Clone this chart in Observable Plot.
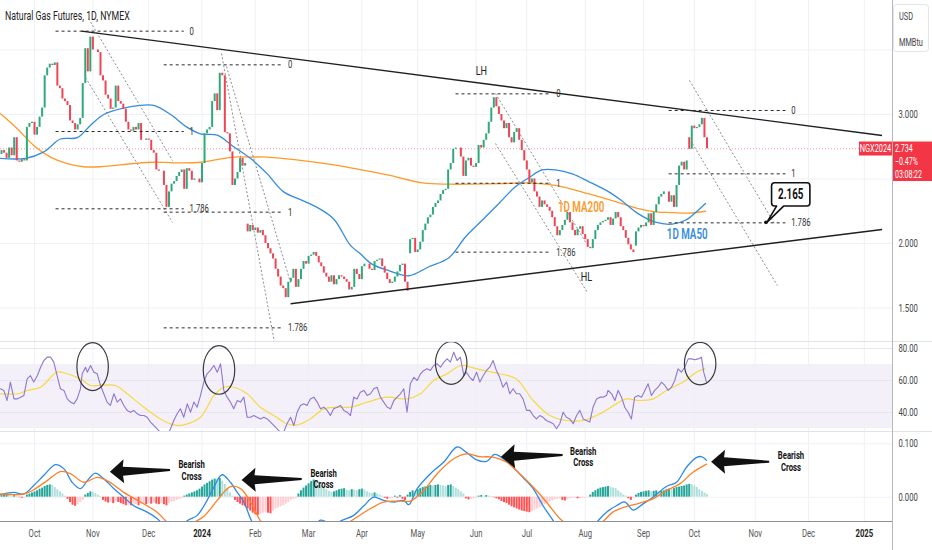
<!DOCTYPE html>
<html><head><meta charset="utf-8">
<script src="https://cdn.jsdelivr.net/npm/d3@7"></script>
<script src="https://cdn.jsdelivr.net/npm/@observablehq/plot@0.6"></script>
<style>
body{margin:0;background:#fff;font-family:Roboto,"Liberation Sans",sans-serif;}
#wrap{position:relative;width:932px;height:550px;overflow:hidden;background:#fff;}
#wrap svg{position:absolute;left:0;}
.sep{position:absolute;left:0;width:932px;height:1px;background:#e0e3eb;}
</style></head><body><div id="wrap"></div>
<script>
// ---------------- DATA ----------------
const firstIdx = -13;          // bar index of first daily candle (0 = 2 Oct 2023)
const firstOpen = 2.69;
const closes = [
2.72,2.70,2.66,2.74,2.68,2.82,2.64,2.63,2.65,2.64,
2.90,2.93,2.94,2.84,2.90,2.98,3.05,3.30,3.36,3.39,
3.38,3.40,3.22,3.20,3.12,3.10,3.07,2.95,2.93,2.88,
2.92,2.97,3.24,3.51,3.33,3.60,3.50,3.50,3.48,3.30,
3.26,3.15,3.12,3.04,3.05,3.22,3.10,3.08,3.04,2.94,
2.88,2.87,2.90,2.88,2.93,2.80,2.80,2.81,2.80,2.72,
2.70,2.57,2.56,2.56,2.45,2.28,2.40,2.46,2.48,2.52,
2.55,2.57,2.42,2.58,2.56,2.49,2.50,2.50,2.47,2.62,
2.85,2.88,2.90,3.10,3.16,3.03,3.32,3.30,2.86,2.85,
2.71,2.45,2.50,2.55,2.66,2.60,2.62,2.09,2.14,2.10,
2.12,2.08,2.10,2.06,2.00,1.96,1.92,1.88,1.80,1.74,
1.67,1.65,1.58,1.70,1.73,1.80,1.66,1.72,1.80,1.86,
1.84,1.90,1.91,1.93,1.90,1.85,1.82,1.77,1.74,1.70,
1.75,1.68,1.72,1.75,1.74,1.72,1.70,1.64,1.66,1.80,
1.76,1.72,1.82,1.84,1.84,1.80,1.79,1.86,1.87,1.88,
1.82,1.77,1.72,1.69,1.70,1.74,1.78,1.83,1.84,1.70,
1.63,2.03,2.04,1.93,1.95,2.01,2.10,2.15,2.20,2.22,
2.28,2.31,2.33,2.38,2.41,2.42,2.57,2.62,2.73,2.74,
2.74,2.67,2.52,2.64,2.66,2.60,2.59,2.62,2.76,2.74,
2.80,2.85,2.94,3.05,3.13,3.06,3.00,2.95,2.89,2.93,
2.82,2.78,2.86,2.89,2.80,2.72,2.64,2.57,2.47,2.50,
2.40,2.36,2.28,2.33,2.30,2.28,2.25,2.20,2.13,2.06,
2.10,2.14,2.18,2.24,2.16,2.10,2.06,2.11,2.13,2.07,
2.03,1.97,1.96,2.03,2.10,2.14,2.16,2.17,2.18,2.20,
2.14,2.19,2.24,2.20,2.13,2.10,2.04,1.99,1.95,1.93,
2.09,2.12,2.14,2.13,2.16,2.23,2.14,2.24,2.30,2.36,
2.38,2.40,2.40,2.32,2.37,2.28,2.45,2.60,2.63,2.57,
2.64,2.73,2.91,2.89,2.90,2.92,2.97,2.82,2.734];
const gapOpens = [[84,2.15],[148,1.92],[237,1.98],[258,2.82]];

const ma50 = [[-13.4,2.66],[-3.5,2.66],[3.7,2.71],[10.2,2.81],[16.8,2.82],[22,2.915],[27.3,3.0],[35.2,3.05],[41.8,3.07],[47,3.07],[53.6,3.0],[60.2,2.9],[65.4,2.85],[72,2.84],[78.5,2.75],[85.1,2.66],[91.7,2.54],[98.2,2.40],[104.8,2.34],[111.4,2.28],[117.9,2.19],[124.5,1.985],[128.4,1.92],[133,1.84],[139.6,1.79],[147.5,1.75],[155.4,1.82],[163.3,1.89],[169.8,2.05],[176.4,2.18],[183,2.31],[189.5,2.44],[194.8,2.51],[200,2.57],[205.3,2.57],[211.9,2.54],[218.4,2.48],[226.3,2.40],[231.5,2.33],[238,2.23],[244.7,2.165],[251.3,2.15],[256.5,2.18],[260.5,2.24],[264.4,2.31]];
const ma200 = [[-13.4,3.005],[-6.8,2.89],[-0.3,2.76],[6.3,2.67],[12.9,2.62],[19.4,2.595],[26,2.595],[39.1,2.62],[47,2.63],[58.8,2.625],[65.4,2.63],[72,2.65],[78.5,2.67],[85.1,2.67],[91.7,2.67],[104.8,2.645],[118,2.61],[126.5,2.58],[139.6,2.53],[152.8,2.47],[163.3,2.46],[172.4,2.46],[185.6,2.465],[194.8,2.47],[205.3,2.45],[218.4,2.385],[231.5,2.31],[238,2.27],[244.7,2.245],[251.3,2.24],[257.8,2.235],[264.4,2.25]];

const trendLines = [[18.5,3.646,334,2.837],[100.9,1.533,334,2.109]];
const channelLines = [
 [21.28,3.744,54.37,2.643],[20.09,3.287,54.37,2.163],
 [73.68,3.473,94.56,1.233],[75.65,3.372,100.87,1.698],
 [181.64,3.163,217.49,2.0],[181.64,2.775,217.89,1.62],
 [258.08,3.264,291.57,2.155],[259.26,2.775,292.75,1.674]];
const fibNames = ["0","1","1.786"];
const fibSets = [
 {from:8.3, to:58.8, levels:[3.646,2.868,2.269]},
 {from:50.9, to:97.6, levels:[3.385,2.243,1.346]},
 {from:165.9, to:203.3, levels:[3.16,2.467,1.933]},
 {from:249.9, to:295.9, levels:[3.031,2.54,2.16]}];
const swingLabels = [[176.1,3.341,"LH"],[217.5,1.739,"HL"]];
const maLabels = [[215.4,2.277,"1D MA200","#ff9a2a"],[257.2,2.067,"1D MA50","#368cdc"]];
const callout = {i:288.4, p:2.16, text:"2.165"};
const priceGrid = [1.5,2.0,2.5,3.0,3.5];
const priceTicks = [1.5,2.0,3.0];
const lastPrice = 2.734, lastChange = "\u22120.47%", countdown = "03:08:22", symbol = "NGX2024";

const monthIdx = [0,23,45,66,87,108,129,151,174,194,217,240,260,284,305,327];
const monthLabels = ["Oct","Nov","Dec","2024","Feb","Mar","Apr","May","Jun","Jul","Aug","Sep","Oct","Nov","Dec","2025"];

const rsiI = [-13.4,-12.1,-10.8,-9.5,-8.1,-6.8,-5.5,-4.2,-2.9,-1.6,-0.3,1.1,2.4,3.7,5.0,6.3,7.6,8.9,10.2,11.6,12.9,14.2,15.5,16.8,18.1,18.8,20.1,20.8,22.1,23.4,24.7,26.0,27.3,28.6,29.9,31.3,32.6,33.9,35.2,36.5,37.8,39.1,40.5,41.8,43.1,44.4,45.7,47.0,48.3,49.6,51.0,52.3,53.6,54.9,56.2,57.5,58.8,60.2,61.5,62.8,64.1,65.4,66.7,68.0,69.3,70.7,72.0,73.3,73.9,74.6,75.9,77.2,78.5,79.9,81.2,82.5,83.8,85.1,86.4,87.7,89.0,90.4,91.7,93.0,94.3,95.6,96.9,98.2,99.5,100.9,102.2,103.5,104.8,106.1,107.4,108.7,110.1,111.4,112.7,114.0,115.3,116.6,117.9,119.3,120.6,121.9,123.2,124.5,125.8,127.1,128.4,129.8,131.1,132.4,133.7,135.0,136.3,137.6,139.0,140.3,141.6,142.9,144.2,145.5,146.8,148.1,149.5,150.8,152.1,153.4,154.7,156.0,157.3,158.7,160.0,161.3,162.6,163.9,165.2,166.5,167.8,169.2,170.2,171.5,172.8,174.2,175.5,176.8,178.1,179.4,180.7,182.0,183.3,184.6,186.0,187.3,188.6,189.9,191.2,192.5,193.9,195.2,196.5,197.8,199.1,200.4,201.7,203.1,204.4,205.7,207.0,208.3,209.6,210.9,212.3,213.6,214.9,216.2,217.5,218.8,220.1,221.5,222.8,224.1,225.4,226.0,227.4,228.7,230.0,231.3,232.6,233.9,235.2,236.5,237.9,239.2,240.5,241.8,243.1,244.4,245.7,247.1,248.4,249.7,251.0,252.3,253.6,254.9,256.2,257.6,258.9,260.2,261.5,262.8,263.7,264.8];
const rsiV = [54.8,53.8,47.5,59,48.5,48.5,49.6,50.6,61,63,59,63,68.3,72.5,74.6,74.6,71.5,63,54.8,53.8,48.5,46.5,45.4,48.5,54.8,64.2,68.3,65.2,69.4,65.2,64.2,56.9,51.7,46.5,44.4,51.7,46.5,48.5,44.4,41.3,40.2,41.3,39.2,38.1,38.1,37,34,31.9,29.8,27.7,25.6,25.6,29.8,35,39.2,42.3,37,45.4,40.2,46.5,43.3,50.6,59,64.2,66.3,69.4,65.2,70.4,63,53.8,49.6,46.5,42.3,47.5,46.5,49.6,37,37,38.1,37,36,37,36,34,31.9,29.8,27.7,27.7,33,37,31.9,40.2,44.4,45.4,44.4,48.5,49.6,46.5,42.3,43.3,41.3,38.1,42.3,43.3,44.4,41.3,40.2,38.1,49.6,48.5,52.7,53.8,50.6,51.7,54.8,55.8,49.6,46.5,43.3,42.3,47.5,49.6,51.7,54.8,40.2,57.9,62,60,64.2,66.3,67.3,66.3,69.4,70.4,68.3,71.5,73.5,71.5,77.7,72.5,74.6,63,65.2,62,60,65.2,59,63,66.3,68.3,72.5,66.3,62,55.8,59,51.7,54.8,51.7,51.7,48.5,41.3,41.3,38.1,36,38.1,37,35,34,33,29.8,33,40.2,37,36,33,38.1,41.3,36,35,34,43.3,48.5,49.6,49.6,50.6,53.8,51.7,47.5,53.8,49.6,43.3,40.2,36,49.6,50.6,49.6,53.8,57.9,50.6,53.8,55.8,59,56.9,53.8,55.8,60,67.3,65.2,68.3,73.5,73.5,73,73.5,74.6,65.2,59];
const rsiMa = [[-13.4,51.7],[-6.8,51.7],[-2.9,53.75],[2.4,55.8],[8.9,65.2],[12.9,64.2],[18.1,61],[22.1,56.9],[26,56.9],[31.9,56.9],[36.5,51.7],[43.1,43.3],[49.6,36],[54.9,32.3],[58.8,32.3],[65.4,37],[70.7,50.6],[74.6,55.8],[78.5,55.8],[83.8,51.7],[89,43.3],[94.3,38.1],[99.5,33],[103.5,32.3],[108.7,36],[114,42.3],[119.3,43.3],[124.5,43.3],[131.1,46.5],[139,49.6],[146.8,48.5],[152.1,51.7],[157.3,60],[162.6,64.2],[167.8,69.4],[170.2,69],[176.8,66.3],[183.3,64.2],[189.9,61],[196.5,47.5],[203.1,38.1],[209.6,35],[216.2,35],[222.8,39.2],[229.3,45.4],[233.2,48.5],[238.5,47.5],[243.7,48.5],[249,53.75],[255.6,59],[260.8,65.2],[264.1,67.3]];
const rsiBand = [30,70];
const rsiGrid = [40,60,80];
const rsiCircles = [[23.1,68.3,6.2,15],[72.9,66.3,6.2,15.2],[164.4,70.6,6.2,13.3],[262.5,70.2,6.2,13.3]];

const histogram = [
0.003,0.004,0.004,0.003,0.002, 0.003,0.002,-0.001,-0.002,-0.002,
0.004,0.006,0.008,0.010,0.012, 0.015,0.017,0.020,0.022,0.023,
0.022,0.018,0.014,0.010,0.006, 0.002,-0.004,-0.010,-0.015,-0.017,
-0.014,-0.010,-0.006,0.004,0.007, 0.010,0.009,0.007,0.004,0.001,
-0.006,-0.009,-0.011,-0.010,-0.012, -0.008,-0.010,-0.012,-0.014,-0.016,
-0.015,-0.016,-0.015,-0.014,-0.016, -0.013,-0.012,-0.014,-0.012,-0.013,
-0.011,-0.013,-0.014,-0.012,-0.014, -0.016,-0.012,-0.010,-0.008,-0.006,
-0.004,-0.003,0.002,0.004,0.006, 0.008,0.010,0.012,0.015,0.019,
0.023,0.026,0.029,0.032,0.034, 0.033,0.035,0.030,0.024,0.016,
0.008,0.002,-0.006,-0.010,-0.013, -0.016,-0.018,-0.022,-0.026,-0.030,
-0.033,-0.034,-0.032,-0.030,-0.028, -0.030,-0.031,-0.026,-0.022,-0.020,
-0.018,-0.016,-0.013,-0.010,-0.006, -0.004,-0.003,0.006,0.012,0.017,
0.021,0.025,0.029,0.032,0.031, 0.027,0.022,0.018,0.014,0.011,
0.009,0.010,0.012,0.014,0.015, 0.016,0.013,0.012,0.014,0.013,
0.012,0.014,0.015,0.013,0.010, 0.008,0.007,0.008,0.006,0.004,
0.002,-0.002,-0.004,-0.003,-0.002, 0.002,-0.002,0.003,-0.004,-0.006,
0.004,0.009,0.012,0.011,0.014, 0.016,0.018,0.019,0.020,0.022,
0.021,0.022,0.023,0.022,0.021, 0.020,0.022,0.023,0.020,0.017,
0.014,0.010,0.006,-0.003,-0.005, -0.004,-0.003,-0.002,0.002,0.003,
0.002,0.003,0.002,0.001,-0.001, -0.003,-0.005,-0.008,-0.010,-0.012,
-0.015,-0.018,-0.020,-0.022,-0.024, -0.026,-0.027,-0.028,-0.029,-0.027,
-0.025,-0.022,-0.020,-0.017,-0.014, -0.011,-0.009,-0.007,-0.005,-0.004,
-0.003,-0.006,-0.007,-0.005,-0.003, -0.002,-0.002,-0.003,-0.003,-0.002,
-0.002,-0.001,0.004,0.009,0.012, 0.015,0.017,0.018,0.019,0.020,
0.019,0.017,0.016,0.012,0.008, 0.004,0.002,-0.003,-0.006,-0.002,
0.004,0.007,0.009,0.010,0.011, 0.012,0.010,0.011,0.012,0.010,
0.011,0.012,0.014,0.015,0.014, 0.016,0.018,0.019,0.020,0.021,
0.023,0.024,0.023,0.021,0.018, 0.014,0.011,0.008,0.005];
const macdLine = [[-13.4,0.005],[-8.1,0.009],[-4.2,0.006],[-0.3,0.022],[3.7,0.041],[8.3,0.061],[11.6,0.053],[14.8,0.028],[18.1,0.016],[20.8,0.031],[24.0,0.045],[26.7,0.037],[31.3,0.016],[35.2,0.0],[39.1,-0.016],[44.4,-0.028],[48.3,-0.040],[51.0,-0.053],[54,-0.066],[57,-0.060],[60.2,-0.044],[64.1,-0.034],[68.0,-0.006],[70.7,0.019],[73.9,0.042],[77.2,0.028],[79.9,0.009],[82.5,-0.009],[85.1,-0.040],[86.4,-0.053],[92,-0.10],[100,-0.12],[107,-0.08],[112.7,-0.043],[117,-0.05],[121.9,-0.042],[125.8,-0.034],[129.8,-0.016],[133.7,0.0],[137.6,-0.006],[141.6,-0.009],[145.5,-0.006],[147.5,-0.014],[150.8,0.016],[156.0,0.044],[161.3,0.066],[166.5,0.094],[170.2,0.084],[174.2,0.070],[178.1,0.067],[181.4,0.080],[184.7,0.072],[188.6,0.056],[192.5,0.037],[196.5,0.016],[200.4,-0.016],[204.4,-0.044],[205.7,-0.053],[212,-0.08],[218,-0.065],[222.1,-0.044],[225.4,-0.028],[229.3,-0.016],[232.6,-0.009],[235.9,-0.024],[239.8,-0.0125],[243.7,0.0],[249.0,0.020],[253.0,0.028],[256.9,0.056],[260.8,0.074],[262.8,0.076],[264.8,0.069]];
const signalLine = [[-13.4,0.006],[-4.2,0.006],[-0.3,0.014],[5.0,0.031],[10.2,0.048],[14.2,0.044],[19.4,0.028],[24.7,0.037],[28.6,0.031],[35.2,0.009],[41.8,-0.009],[48.3,-0.028],[52.3,-0.047],[56,-0.058],[59,-0.056],[62.8,-0.047],[66.7,-0.036],[72.0,-0.006],[77.2,0.020],[81.2,0.016],[85.1,-0.009],[89.0,-0.044],[90.4,-0.050],[98,-0.09],[106,-0.10],[115,-0.07],[124.5,-0.045],[131.1,-0.025],[137.6,-0.009],[144.2,-0.0075],[148.1,-0.0075],[153.4,0.0125],[158.7,0.044],[165.2,0.072],[170.2,0.081],[175.5,0.076],[180.7,0.075],[185.9,0.066],[191.2,0.044],[196.5,0.019],[201.7,-0.009],[206.8,-0.039],[209.6,-0.050],[215,-0.066],[220,-0.058],[224.1,-0.045],[227.9,-0.028],[233.2,-0.0175],[238.5,-0.011],[243.7,-0.003],[249.0,0.0125],[254.3,0.025],[259.6,0.047],[264.8,0.062]];
const macdGrid = [0, 0.1];
// arrows: tip idx, tip value, tail idx, tail value ; text centre idx, value line1, value line2
const arrows = [[29.9,0.0468,53.6,0.050],[81.8,0.0313,105.5,0.0331],[184,0.0749,208.3,0.078],[266.8,0.0655,289.7,0.0655]];
const arrowTexts = [[62.1,0.0612,0.0388],[114.1,0.045,0.0238],[216.4,0.0861,0.065],[298.3,0.078,0.0556]];

// ---------------- LAYOUT ----------------
const W = 932, MR = 40;
const xDomain = [-13.4, 338.1];
const mainDomain = [1.2403, 3.8837];
const rsiDomain = [28.125, 84.375];
const macdDomain = [-0.0455, 0.1230];
const GRID = "#eef1f5", UP = "#2fa97a", DN = "#ef4453", FONT = "Roboto, 'Liberation Sans', sans-serif";
const AX = "#b4b7bf";

function mk(o){
  return Plot.plot(Object.assign({width:W, marginLeft:0, marginRight:MR, marginTop:0, marginBottom:0,
    color:{type:"identity"}, x:{domain:xDomain, axis:null},
    style:{background:"transparent", fontFamily:FONT, fontSize:"11px", overflow:"visible"}}, o));
}
const wrap = document.getElementById("wrap");

// ---- main pane ----
const candles = closes.map((c,k)=>({i:firstIdx+k, o: k===0 ? firstOpen : closes[k-1], c}));
gapOpens.forEach(([i,o])=>{ candles[i-firstIdx].o = o; });
const fibSegs = [], fibLbls = [];
fibSets.forEach(s=>s.levels.forEach((p,j)=>{ fibSegs.push({x1:s.from,x2:s.to,p}); fibLbls.push({x:s.to+2.3,p,t:fibNames[j]}); }));

const main = mk({height:341, y:{domain:mainDomain, axis:null}, marks:[
  Plot.ruleX(monthIdx, {stroke:GRID}),
  Plot.ruleY(priceGrid, {stroke:GRID}),
  Plot.ruleY([lastPrice], {stroke:"#f29aa2", strokeDasharray:"1,2"}),
  Plot.line(ma200, {x:d=>d[0], y:d=>d[1], stroke:"#ff9a2a", strokeWidth:1.3, curve:"catmull-rom"}),
  Plot.line(ma50, {x:d=>d[0], y:d=>d[1], stroke:"#368cdc", strokeWidth:1.3, curve:"catmull-rom"}),
  Plot.ruleX(candles, {x:"i", y1:"o", y2:"c", stroke:d=>d.c>=d.o?UP:DN, strokeWidth:2}),
  Plot.link(channelLines, {x1:d=>d[0], y1:d=>d[1], x2:d=>d[2], y2:d=>d[3], stroke:"#8d8d8d", strokeWidth:1, strokeDasharray:"2,2", clip:true}),
  Plot.link(trendLines, {x1:d=>d[0], y1:d=>d[1], x2:d=>d[2], y2:d=>d[3], stroke:"#1f1f1f", strokeWidth:1.4}),
  Plot.link(fibSegs, {x1:"x1", x2:"x2", y1:"p", y2:"p", stroke:"#2a2a2a", strokeWidth:1, strokeDasharray:"3,3"}),
  Plot.text(fibLbls, {x:"x", y:"p", text:"t", textAnchor:"start", fontSize:11, fill:"#333"}),
  Plot.text(swingLabels, {x:d=>d[0], y:d=>d[1], text:d=>d[2], fontSize:13, fill:"#222"}),
  Plot.text(maLabels, {x:d=>d[0], y:d=>d[1], text:d=>d[2], fill:d=>d[3], fontSize:14, fontWeight:600}),
  Plot.ruleX([xDomain[1]], {stroke:AX}),
  Plot.text(priceTicks, {y:d=>d, text:d=>d.toFixed(3), frameAnchor:"right", dx:6, textAnchor:"start", fill:"#444", fontSize:11})
]});
main.style.top = "0px"; wrap.appendChild(main);

// ---- RSI pane ----
const rsiPts = rsiI.map((x,k)=>[x, rsiV[k]]);
const rsi = mk({height:90, y:{domain:rsiDomain, axis:null}, marks:[
  Plot.rect([rsiBand], {x1:()=>xDomain[0], x2:()=>xDomain[1], y1:d=>d[0], y2:d=>d[1], fill:"#7e57c2", fillOpacity:0.09}),
  Plot.ruleX(monthIdx, {stroke:GRID}),
  Plot.ruleY(rsiGrid, {stroke:"#e6e8ee"}),
  Plot.line(rsiMa, {x:d=>d[0], y:d=>d[1], stroke:"#f9d845", strokeWidth:1.2, curve:"catmull-rom", clip:true}),
  Plot.line(rsiPts, {x:d=>d[0], y:d=>d[1], stroke:"#8f77d0", strokeWidth:1.1, clip:true}),
  Plot.ruleX([xDomain[1]], {stroke:AX}),
  Plot.text(rsiGrid, {y:d=>d, text:d=>d.toFixed(2), frameAnchor:"right", dx:6, textAnchor:"start", fill:"#444", fontSize:11})
]});
rsi.style.top = "341px"; wrap.appendChild(rsi);

// ---- MACD pane ----
const hist = histogram.map((h,k)=>{
  const prev = k ? histogram[k-1] : h;
  const col = h>=0 ? (h>=prev ? "#26a69a" : "#b2dfdb") : (h<prev ? "#ff5252" : "#ffcdd2");
  return {i:firstIdx+k, h, col};
});
const months = monthIdx.map((x,k)=>({x, t:monthLabels[k], year:/^\d{4}$/.test(monthLabels[k])}));
const macd = mk({height:119, marginBottom:29, y:{domain:macdDomain, axis:null}, marks:[
  Plot.ruleX(monthIdx, {stroke:GRID}),
  Plot.ruleY(macdGrid, {stroke:GRID}),
  Plot.ruleX(hist, {x:"i", y1:()=>0, y2:"h", stroke:"col", strokeWidth:2, clip:true}),
  Plot.line(macdLine, {x:d=>d[0], y:d=>d[1], stroke:"#2e8ae6", strokeWidth:1.3, curve:"catmull-rom", clip:true}),
  Plot.line(signalLine, {x:d=>d[0], y:d=>d[1], stroke:"#ff7f27", strokeWidth:1.3, curve:"catmull-rom", clip:true}),
  Plot.ruleY([macdDomain[0]], {stroke:"#8c8f96"}),
  Plot.ruleX([xDomain[1]], {stroke:AX, y1:()=>macdDomain[0], y2:()=>macdDomain[1]}),
  Plot.text(macdGrid, {y:d=>d, text:d=>d.toFixed(3), frameAnchor:"right", dx:6, textAnchor:"start", fill:"#444", fontSize:11}),
  Plot.text(months.filter(d=>!d.year), {x:"x", text:"t", frameAnchor:"bottom", dy:15, fill:"#555", fontSize:11}),
  Plot.text(months.filter(d=>d.year), {x:"x", text:"t", frameAnchor:"bottom", dy:15, fill:"#222", fontSize:11, fontWeight:700})
]});
macd.style.top = "431px"; wrap.appendChild(macd);

// separators & axis border
[341,431].forEach(t=>{ const d=document.createElement("div"); d.className="sep"; d.style.top=t+"px"; wrap.appendChild(d); });
const vb = document.createElement("div"); vb.style.cssText="position:absolute;left:892px;top:0;width:1px;height:550px;background:"+AX; wrap.appendChild(vb);

// ---- annotations drawn through the plots' scales ----
{
  const sx = main.scale("x"), sy = main.scale("y");
  const g = d3.select(main).append("g").attr("font-family", FONT).attr("text-anchor","start");
  // callout
  const ax = sx.apply(callout.i), ay = sy.apply(callout.p);
  const bx0 = ax+5.7, bx1 = ax+44, by0 = ay-39.6, by1 = ay-16.3, r=3;
  g.append("path").attr("d",
    `M${bx0+r},${by0}H${bx1-r}Q${bx1},${by0} ${bx1},${by0+r}V${by1-r}Q${bx1},${by1} ${bx1-r},${by1}H${bx0+12}L${ax+1},${ay}L${bx0+5},${by1}H${bx0+r}Q${bx0},${by1} ${bx0},${by1-r}V${by0+r}Q${bx0},${by0} ${bx0+r},${by0}Z`)
    .attr("fill","#fff").attr("stroke","#111").attr("stroke-width",1.6).attr("stroke-linejoin","round");
  g.append("circle").attr("cx",ax).attr("cy",ay).attr("r",1.8).attr("fill","#111");
  g.append("text").attr("x",(bx0+bx1)/2).attr("y",(by0+by1)/2).attr("dy","0.36em").attr("text-anchor","middle")
    .attr("font-size",14).attr("font-weight",700).attr("fill","#111").text(callout.text);
  // title
  g.append("text").attr("x",5).attr("y",20).attr("font-size",12.5).attr("fill","#222").text("Natural Gas Futures, 1D, NYMEX");
  // USD box
  g.append("rect").attr("x",893.5).attr("y",4.5).attr("width",35).attr("height",47).attr("rx",3).attr("fill","#fff").attr("stroke","#e3e5ea");
  g.append("text").attr("x",899).attr("y",20).attr("font-size",10.5).attr("fill","#444").text("USD");
  g.append("text").attr("x",899).attr("y",46).attr("font-size",10.5).attr("fill","#444").text("MMBtu");
  // price tag
  const py = sy.apply(lastPrice);
  g.append("rect").attr("x",859).attr("y",py-6.8).attr("width",33).attr("height",14).attr("fill","#f23645");
  g.append("text").attr("x",875.5).attr("y",py).attr("dy","0.36em").attr("text-anchor","middle").attr("font-size",10.5).attr("fill","#fff").text(symbol);
  g.append("rect").attr("x",893).attr("y",py-6.8).attr("width",39).attr("height",39.5).attr("fill","#f23645");
  [lastPrice.toFixed(3), lastChange, countdown].forEach((t,k)=>
    g.append("text").attr("x",895).attr("y",py+k*13).attr("dy","0.36em").attr("text-anchor","start").attr("font-size",10).attr("fill","#fff").text(t));
}
{
  const sx = rsi.scale("x"), sy = rsi.scale("y");
  const g = d3.select(rsi).append("g");
  rsiCircles.forEach(([i,v,ri,rv])=>{
    g.append("ellipse").attr("cx",sx.apply(i)).attr("cy",sy.apply(v))
      .attr("rx",Math.abs(sx.apply(i+ri)-sx.apply(i))).attr("ry",Math.abs(sy.apply(v+rv)-sy.apply(v)))
      .attr("fill","none").attr("stroke","#3a3a3a").attr("stroke-width",1.2);
  });
}
{
  const sx = macd.scale("x"), sy = macd.scale("y");
  const g = d3.select(macd).append("g").attr("font-family", FONT);
  arrows.forEach(([ti,tv,ei,ev])=>{
    const x0=sx.apply(ti), y0=sy.apply(tv), x1=sx.apply(ei), y1=sy.apply(ev);
    const dx=x1-x0, dy=y1-y0, L=Math.hypot(dx,dy), ux=dx/L, uy=dy/L, nx=-uy, ny=ux;
    const pts=[[0,0],[14,12],[13,4.5],[L,1],[L,-1],[13,-4.5],[14,-12]];
    g.append("path").attr("d","M"+pts.map(([a,b])=>(x0+ux*a+nx*b).toFixed(2)+","+(y0+uy*a+ny*b).toFixed(2)).join("L")+"Z").attr("fill","#111");
  });
  arrowTexts.forEach(([i,v1,v2])=>{
    [[v1,"Bearish"],[v2,"Cross"]].forEach(([v,t])=>
      g.append("text").attr("x",sx.apply(i)).attr("y",sy.apply(v)).attr("dy","0.36em").attr("text-anchor","middle")
       .attr("font-size",11).attr("font-weight",700).attr("fill","#111").text(t));
  });
}

// condensed text look of the reference screenshot
document.querySelectorAll("#wrap svg text").forEach(t=>{
  if (t.querySelector("tspan")) return;
  const L = t.getComputedTextLength();
  if (L>0){ t.setAttribute("textLength",(L*0.7).toFixed(2)); t.setAttribute("lengthAdjust","spacingAndGlyphs"); }
});
</script></body></html>
